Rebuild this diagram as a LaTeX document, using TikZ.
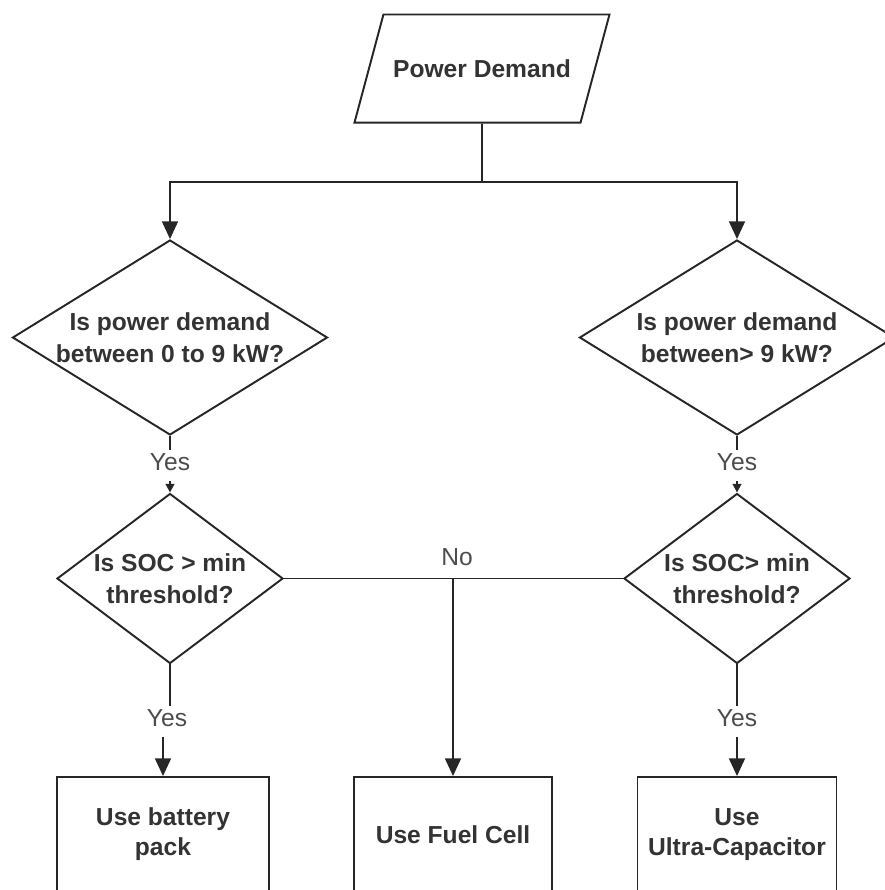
\documentclass[tikz,border=0pt]{standalone}
\usepackage{fontspec}
\setmainfont{Liberation Sans}
\usetikzlibrary{positioning,shapes.geometric,arrows.meta}

\tikzset{
  flowline/.style={draw=black!85, line width=1.1pt},
  flowarrow/.style={flowline, -{Triangle[length=10pt,width=9pt]}},
  smallarrow/.style={flowline, -{Triangle[length=5pt,width=5pt]}},
  inputbox/.style={trapezium, trapezium left angle=75, trapezium right angle=105,
    trapezium stretches body, draw=black!85, line width=1.1pt,
    inner xsep=0pt, inner ysep=0.9cm, minimum width=5.1cm, text=black!80,
    font=\fontsize{14}{17}\selectfont\bfseries},
  decision/.style={diamond, aspect=1.6, draw=black!85, line width=1.1pt, inner sep=0pt,
    align=center, text=black!80, font=\fontsize{14}{18}\selectfont\bfseries},
  action/.style={rectangle, draw=black!85, line width=1.1pt, minimum height=2.3cm,
    align=center, text=black!80, font=\fontsize{14}{17}\selectfont\bfseries},
  answer/.style={inner sep=2pt, text=black!70, font=\fontsize{14}{17}\selectfont}
}

\begin{document}
\begin{tikzpicture}
  \useasboundingbox (0,0) rectangle (17.7,-17.8);

  \coordinate (Dm) at (9.64, -1.37);
  \coordinate (hub) at (9.64, -3.64);
  \coordinate (DL) at (3.40, -6.75);
  \coordinate (DR) at (14.74, -6.75);
  \coordinate (YL1) at (3.40, -9.24);
  \coordinate (YR1) at (14.74, -9.24);
  \coordinate (SL) at (3.40, -11.57);
  \coordinate (SR) at (14.74, -11.57);
  \coordinate (YL2) at (3.34, -14.36);
  \coordinate (YR2) at (14.74, -14.36);
  \coordinate (NoC) at (9.14, -11.14);
  \coordinate (BL) at (3.26, -16.69);
  \coordinate (BM) at (9.06, -16.69);
  \coordinate (BR) at (14.74, -16.69);

  % input and decisions
  \node[inputbox] (demand) at (Dm) {Power Demand};
  \node[decision, minimum width=6.3cm, minimum height=3.9cm] (lowdem) at (DL)
    {Is power demand\\between 0 to 9 kW?};
  \node[decision, minimum width=6.3cm, minimum height=3.9cm] (highdem) at (DR)
    {Is power demand\\between> 9 kW?};
  \node[decision, aspect=1.36, minimum width=4.52cm, minimum height=3.4cm] (socL) at (SL)
    {Is SOC > min\\threshold?};
  \node[decision, aspect=1.36, minimum width=4.52cm, minimum height=3.4cm] (socR) at (SR)
    {Is SOC> min\\threshold?};

  % actions
  \node[action, minimum width=4.24cm] (battery) at (BL) {Use battery\\pack};
  \node[action, minimum width=3.96cm] (fuel) at (BM) {Use Fuel Cell};
  \node[action, minimum width=3.98cm] (ultra) at (BR) {Use\\Ultra-Capacitor};

  % labels
  \node[answer] (yesL1) at (YL1) {Yes};
  \node[answer] (yesR1) at (YR1) {Yes};
  \node[answer] (yesL2) at (YL2) {Yes};
  \node[answer] (yesR2) at (YR2) {Yes};
  \node[answer] (no) at (NoC) {No};

  % connectors
  \draw[flowline] (demand.south) -- (hub);
  \draw[flowarrow] (hub) -| (lowdem.north);
  \draw[flowarrow] (hub) -| (highdem.north);

  \draw[flowline] (lowdem.south) -- (yesL1.north);
  \draw[smallarrow, shorten <=4pt] (yesL1.south) -- (socL.north);
  \draw[flowline] (highdem.south) -- (yesR1.north);
  \draw[smallarrow, shorten <=4pt] (yesR1.south) -- (socR.north);

  \draw[flowline] (socL.south) -- (socL.south |- yesL2.north);
  \draw[flowarrow, shorten <=3.5pt] (yesL2.south -| battery.north) -- (battery.north);
  \draw[flowline] (socR.south) -- (yesR2.north);
  \draw[flowarrow, shorten <=3.5pt] (yesR2.south) -- (ultra.north);

  \coordinate (split) at (fuel.north |- socL.east);
  \draw[flowline] (socL.east) -- (socR.west);
  \draw[flowarrow] (split) -- (fuel.north);
\end{tikzpicture}
\end{document}
